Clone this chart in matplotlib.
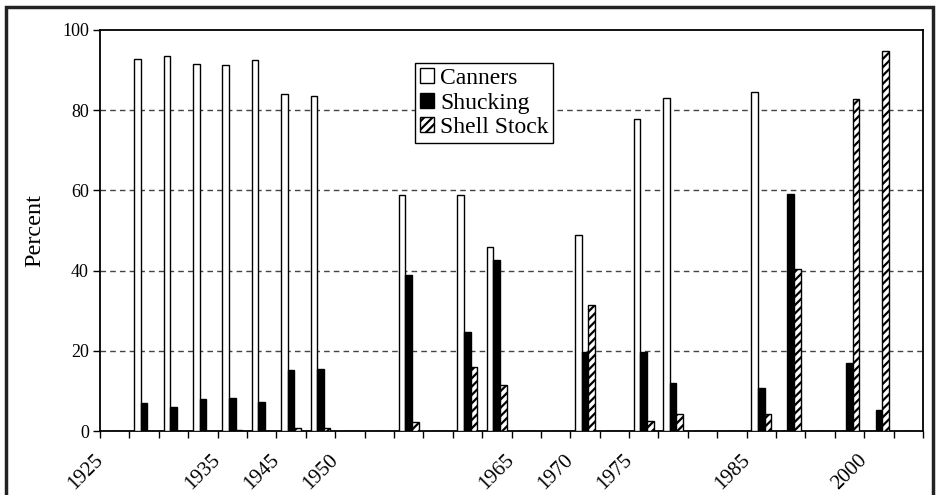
import numpy as np
import matplotlib
matplotlib.use("Agg")
import matplotlib.pyplot as plt
from matplotlib.patches import Rectangle
from matplotlib.transforms import ScaledTranslation

plt.rcParams['font.family'] = ['Liberation Serif', 'DejaVu Serif']
plt.rcParams['hatch.linewidth'] = 1.6

# one slot per category on the axis, blank labels for unlabelled slots
labels = ['1925', '', '', '', '1935', '', '1945', '', '1950', '', '', '', '', '',
          '1965', '', '1970', '', '1975', '', '', '', '1985', '', '', '', '2000', '']
canners = [0, 92.8, 93.4, 91.6, 91.3, 92.4, 84.0, 83.6, 0, 0, 58.9, 0, 58.9, 46.0,
           0, 0, 48.8, 0, 77.7, 83.0, 0, 0, 84.6, 0, 0, 0, 0, 0]
shucking = [0, 6.9, 6.1, 7.9, 8.2, 7.3, 15.2, 15.5, 0, 0, 38.8, 0, 24.7, 42.6,
            0, 0, 19.7, 0, 19.7, 12.0, 0, 0, 10.8, 59.0, 0, 17.0, 5.2, 0]
shell = [0, 0, 0, 0, 0.3, 0, 0.8, 0.8, 0, 0, 2.2, 0, 16.0, 11.4,
         0, 0, 31.5, 0, 2.5, 4.2, 0, 0, 4.2, 40.3, 0, 82.7, 94.8, 0]

x = np.arange(len(labels))
w = 0.225

fig = plt.figure(figsize=(9.4, 4.95), dpi=100)
ax = fig.add_axes([100/940, 1-431/495, 823/940, 401/495])

ax.bar(x - w, canners, w, color='white', edgecolor='black', linewidth=1, label='Canners', zorder=3)
ax.bar(x, shucking, w, color='black', edgecolor='black', linewidth=1, label='Shucking', zorder=3)
ax.bar(x + w, shell, w, color='white', edgecolor='black', linewidth=1, hatch='////', label='Shell Stock', zorder=3)

ax.set_xlim(-0.5, len(labels) - 0.5)
ax.set_ylim(0, 100)
ax.set_yticks([0, 20, 40, 60, 80, 100])
ax.tick_params(axis='y', direction='out', length=5, width=1, labelsize=13, pad=3)
for yv in [20, 40, 60, 80]:
    ax.axhline(yv, color='#444444', lw=1, ls=(0, (4, 3)), zorder=1)

ax.set_xticks(np.arange(len(labels) + 1) - 0.5, minor=True)
ax.tick_params(axis='x', which='minor', direction='out', length=5, width=1)
ax.set_xticks(x, labels)
ax.tick_params(axis='x', which='major', length=0, labelsize=15, pad=14)
off = ScaledTranslation(-0.21, 0, fig.dpi_scale_trans)
for lab in ax.get_xticklabels():
    lab.set_rotation(45)
    lab.set_ha('right')
    lab.set_va('top')
    lab.set_rotation_mode('anchor')
    lab.set_transform(lab.get_transform() + off)

for s in ax.spines.values():
    s.set_linewidth(1.3)
    s.set_color('black')

ax.set_ylabel('Percent', fontsize=17.5, labelpad=12)

ax.legend(loc='upper left', bbox_to_anchor=(0.383, 0.917), borderaxespad=0,
          fontsize=17, frameon=True, fancybox=False, edgecolor='black',
          framealpha=1, handlelength=0.6, handleheight=0.6, handletextpad=0.25,
          borderpad=0.2, labelspacing=0.15)
ax.get_legend().get_frame().set_linewidth(1)

# outer frame of the picture
fig.patches.append(Rectangle((6/940, -0.1), 927/940, 1.1 - 7/495, transform=fig.transFigure,
                             fill=False, edgecolor='#222222', linewidth=2.5))

fig.savefig('out.png', dpi=100)
